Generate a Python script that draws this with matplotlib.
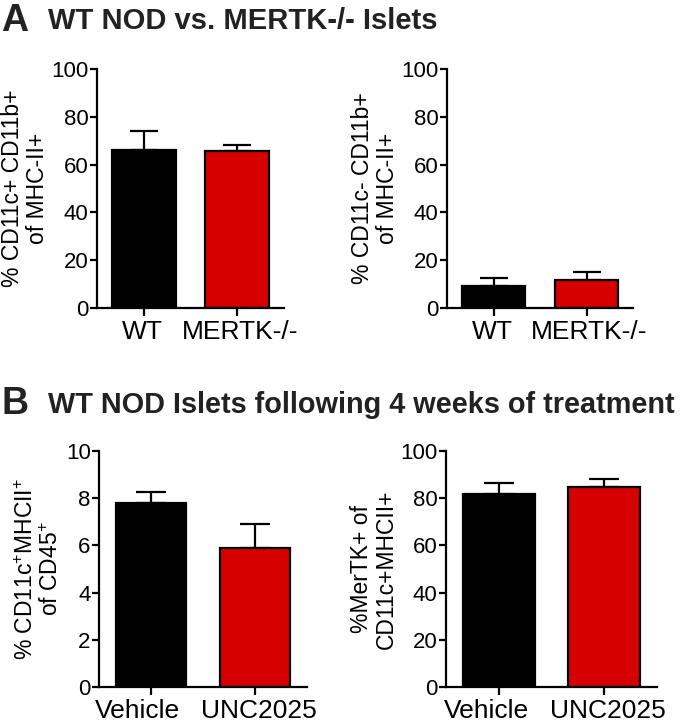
import matplotlib
matplotlib.use("Agg")
import matplotlib.pyplot as plt
import numpy as np

plt.rcParams['font.family'] = ['Liberation Sans', 'DejaVu Sans']
plt.rcParams['mathtext.fontset'] = 'custom'
plt.rcParams['mathtext.rm'] = 'Liberation Sans'
plt.rcParams['mathtext.it'] = 'Liberation Sans'

# panel A data
a_groups = ['WT', 'MERTK-/-']
a1_mean = [66.2, 65.8]
a1_sem = [8.0, 2.4]
a2_mean = [9.3, 11.8]
a2_sem = [3.1, 3.2]

# panel B data
b_groups = ['Vehicle', 'UNC2025']
b1_mean = [7.8, 5.88]
b1_sem = [0.48, 1.02]
b2_mean = [81.9, 84.6]
b2_sem = [4.4, 3.6]

colors = ['black', '#d70000']

W, H = 680, 724
fig = plt.figure(figsize=(W / 100, H / 100), dpi=100)


def px_axes(x0, x1, ytop, ybot):
    return fig.add_axes([x0 / W, 1 - ybot / H, (x1 - x0) / W, (ybot - ytop) / H])


def bar_panel(ax, groups, means, sems, ymax, step, ylabel, capsize, shifts=(0, 0)):
    x = np.arange(len(groups))
    ax.errorbar(x, means, yerr=[np.zeros(len(means)), sems], fmt='none',
                ecolor='black', elinewidth=1.6, capsize=capsize, capthick=1.6, zorder=1)
    ax.bar(x, means, width=0.68, color=colors, edgecolor='black', linewidth=1.6, zorder=2)
    ax.set_xlim(-0.5, 1.5)
    ax.set_ylim(0, ymax)
    ax.set_yticks(np.arange(0, ymax + step / 2, step))
    ax.set_xticks(x)
    ax.set_xticklabels([])
    # group labels, nudged apart a little like in the original
    for xi, g, dx in zip(x, groups, shifts):
        ax.annotate(g, xy=(xi, 0), xycoords=('data', 'axes fraction'),
                    xytext=(dx, -8.5), textcoords='offset points',
                    ha='center', va='top', fontsize=19)
    ax.tick_params(axis='y', labelsize=16, width=1.6, length=5, pad=1)
    ax.tick_params(axis='x', width=1.6, length=6, pad=4)
    for s in ['top', 'right']:
        ax.spines[s].set_visible(False)
    for s in ['left', 'bottom']:
        ax.spines[s].set_linewidth(1.6)
    ax.set_ylabel(ylabel, fontsize=16.5, linespacing=1.1, labelpad=2)


ax1 = px_axes(97, 284, 69, 308)
bar_panel(ax1, a_groups, a1_mean, a1_sem, 100, 20, '% CD11c+ CD11b+\nof MHC-II+', 10, (-1, 2))
ax2 = px_axes(447, 633, 69, 308)
bar_panel(ax2, a_groups, a2_mean, a2_sem, 100, 20, '% CD11c- CD11b+\nof MHC-II+', 10, (-1, 2))
ax3 = px_axes(99, 307, 451, 687)
bar_panel(ax3, b_groups, b1_mean, b1_sem, 10, 2,
          '% CD11c$^{+}$MHCII$^{+}$\nof CD45$^{+}$', 11, (-9.5, 2.8))
ax4 = px_axes(446, 657, 451, 687)
bar_panel(ax4, b_groups, b2_mean, b2_sem, 100, 20, '%MerTK+ of\nCD11c+MHCII+', 11, (-9, 2.8))

# panel letters and titles
title_kw = dict(fontweight='bold', color='#222222', va='baseline')
fig.text(1 / W, 1 - 31 / H, 'A', fontsize=27, **title_kw)
fig.text(48 / W, 1 - 29 / H, 'WT NOD vs. MERTK-/- Islets', fontsize=21, **title_kw)
fig.text(1 / W, 1 - 414 / H, 'B', fontsize=27, **title_kw)
fig.text(48 / W, 1 - 413 / H, 'WT NOD Islets following 4 weeks of treatment',
         fontsize=20.8, **title_kw)

fig.savefig('out.png', dpi=100)
